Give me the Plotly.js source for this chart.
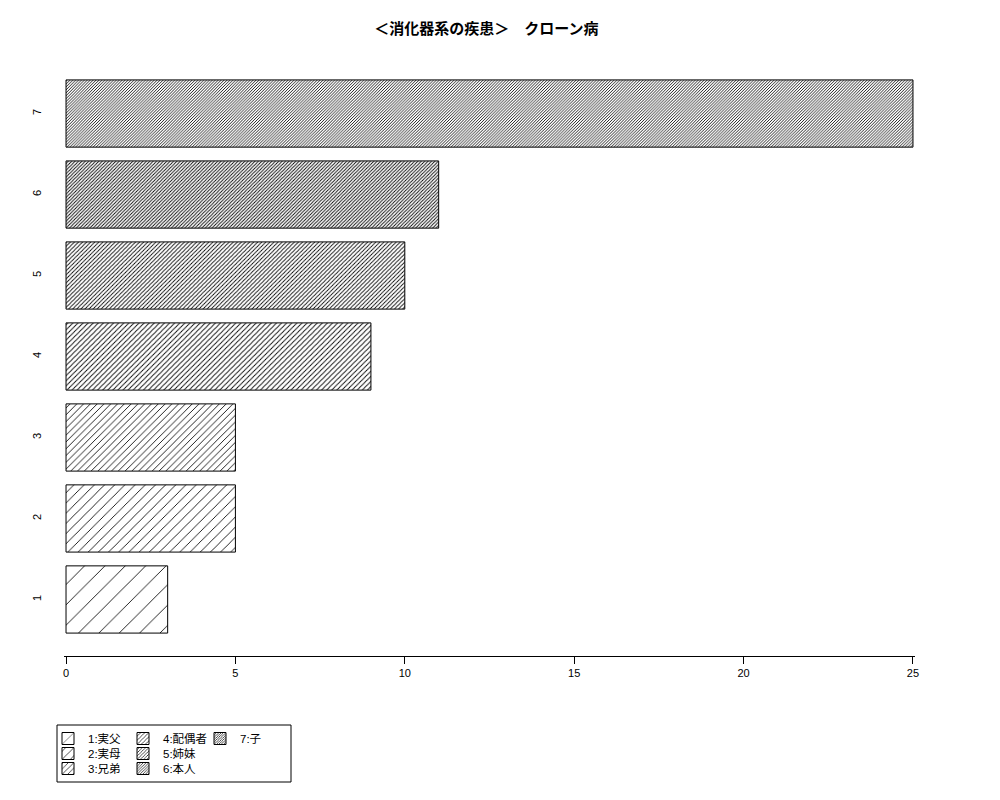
<!DOCTYPE html>
<html>
<head>
<meta charset="utf-8">
<script src="https://cdn.plot.ly/plotly-3.0.1.min.js"></script>
<style>
  html, body { margin: 0; padding: 0; background: #fff; }
  #chart { width: 1000px; height: 800px; }
</style>
</head>
<body>
<div id="chart"></div>
<script>
// data ------------------------------------------------------------------
const categories = ['1', '2', '3', '4', '5', '6', '7'];
const values = [3, 5, 5, 9, 10, 11, 25];
const legendLabels = ['1:実父', '2:実母', '3:兄弟', '4:配偶者', '5:姉妹', '6:本人', '7:子'];
const xTicks = [0, 5, 10, 15, 20, 25];

// hatch density per bar (R style: lines per inch)
const densities = [5, 10, 15, 20, 25, 30, 35];

const FONT = '"Liberation Sans", Arial, "Noto Sans CJK JP", sans-serif';

// one legend box per entry, laid out in R's column order (3 rows)
const legendIds = categories.map((c, i) => i === 0 ? 'legend' : 'legend' + (i + 1));
const legendPos = categories.map((c, i) => ({
    x: [48, 123, 200][Math.floor(i / 3)] / 1000,
    y: 1 - (724 + 15 * (i % 3)) / 800,
}));

const traces = categories.map((c, i) => {
    const size = 72 / densities[i];
    return {
        type: 'bar', orientation: 'h',
        y: [c], x: [values[i]],
        name: legendLabels[i],
        legend: legendIds[i],
        width: 0.83,
        marker: {
            color: '#ffffff',
            line: { color: '#000000', width: 1 },
            pattern: { shape: '/', size: size, solidity: Math.min(0.85 / size, 0.45), fgcolor: '#000000', bgcolor: '#ffffff', fillmode: 'replace' },
        },
        hoverinfo: 'skip',
    };
});

const legendCommon = {
    bgcolor: 'rgba(0,0,0,0)', borderwidth: 0,
    font: { family: FONT, size: 11.5, color: '#000' },
    itemwidth: 30, tracegroupgap: 0,
    xref: 'container', yref: 'container',
    xanchor: 'left', yanchor: 'top',
    orientation: 'v',
};

const layout = {
    width: 1000, height: 800,
    paper_bgcolor: '#ffffff', plot_bgcolor: '#ffffff',
    font: { family: FONT, size: 11, color: '#000' },
    margin: { l: 64, r: 85, t: 57, b: 144, autoexpand: false },
    barmode: 'overlay',
    title: {
        text: '<b>＜消化器系の疾患＞　クローン病</b>',
        font: { family: FONT, size: 15, color: '#000' },
        xref: 'paper', x: 0.5 - 3 / 851, xanchor: 'center',
        yref: 'container', y: 1 - 29 / 800, yanchor: 'middle',
    },
    xaxis: {
        range: [-0.06, 25.06],
        tickmode: 'array', tickvals: xTicks, ticktext: xTicks.map(String),
        ticks: 'outside', ticklen: 7, tickcolor: '#000', tickwidth: 1,
        showline: true, linecolor: '#000', linewidth: 1,
        showgrid: false, zeroline: false,
        tickfont: { family: FONT, size: 11, color: '#000' },
    },
    yaxis: {
        type: 'category', categoryorder: 'array', categoryarray: categories,
        range: [-0.698, 6.698],
        ticks: '', showline: false, showgrid: false, zeroline: false,
        tickangle: -90, ticklabelstandoff: 20,
        tickfont: { family: FONT, size: 11, color: '#000' },
    },
    showlegend: true,
    shapes: [{
        type: 'rect', xref: 'paper', yref: 'paper',
        x0: (57 - 64) / 851, x1: (291 - 64) / 851,
        y0: (656 - 782) / 599, y1: (656 - 725) / 599,
        line: { color: '#000', width: 1 }, fillcolor: 'rgba(0,0,0,0)',
    }],
};
legendIds.forEach((id, i) => {
    layout[id] = { ...legendCommon, x: legendPos[i].x, y: legendPos[i].y };
});

Plotly.newPlot('chart', traces, layout, { displayModeBar: false, staticPlot: true });
</script>
</body>
</html>
